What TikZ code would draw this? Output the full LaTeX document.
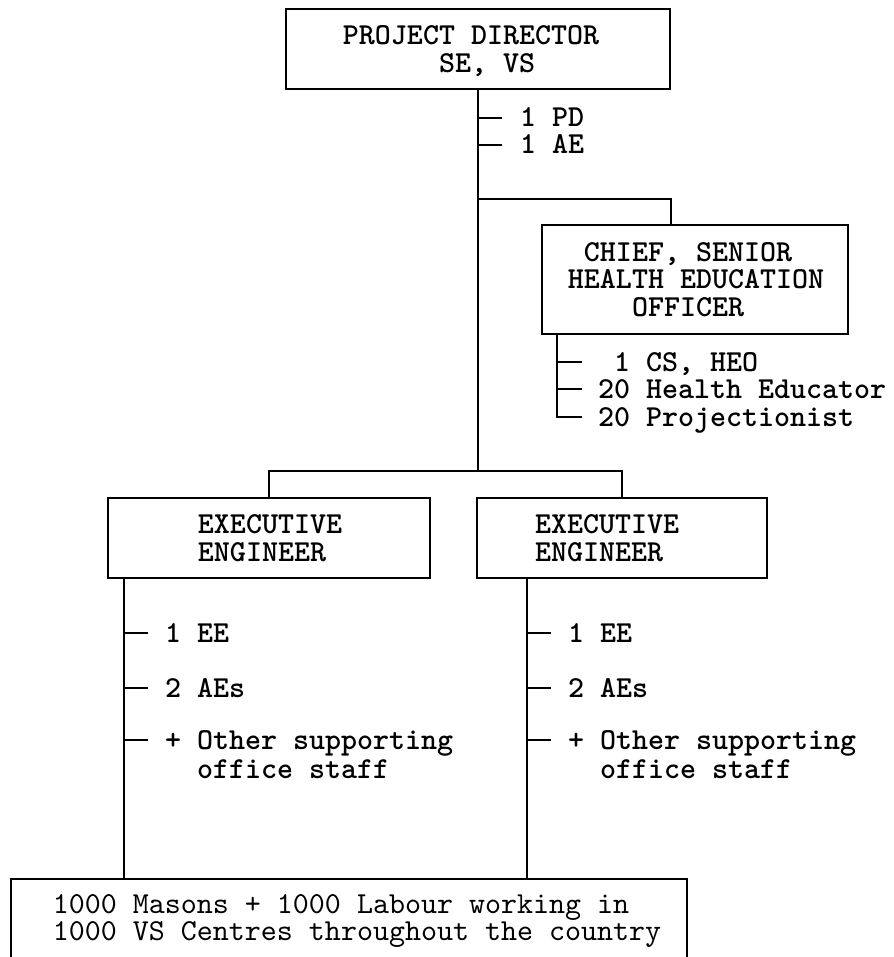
\documentclass[tikz,border=0pt]{standalone}
\usepackage{fontspec}
\newfontfamily\orgmono{lmmonolt10-bold.otf}
\newfontfamily\crewmono{lmmono10-regular.otf}
\newcommand{\orgsize}{\fontsize{30.48pt}{27.5pt}\selectfont}

\tikzset{
  post/.style={draw, line width=2pt, minimum height=80pt, inner sep=0pt},
  boxtxt/.style={font=\orgmono\orgsize, align=left, inner sep=0pt},
  lbl/.style={font=\orgmono\orgsize, inner sep=0pt, text height=18pt, text depth=0pt, anchor=west},
  link/.style={line width=1.6pt}
}

\begin{document}
\begin{tikzpicture}[x=1pt,y=-1pt]
\useasboundingbox (0,0) rectangle (893,957);

% the posts
\node[post, minimum width=384pt] (pd) at (478,49) {};
\node[post, minimum width=306pt, minimum height=109pt] (cs) at (695,279.5) {};
\node[post, minimum width=322pt] (eel) at (269,538) {};
\node[post, minimum width=290pt] (eer) at (622,538) {};
\node[post, minimum width=676pt, minimum height=79pt] (crew) at (349,918.5) {};

\node[boxtxt] (pdtxt) at ([xshift=-7pt,yshift=-2pt]pd.center) {PROJECT DIRECTOR\\\hphantom{PROJEC}SE, VS};
\node[boxtxt] (cstxt) at ([xshift=1pt]cs.center) {\hphantom{X}CHIEF, SENIOR\\HEALTH EDUCATION\\\hphantom{XXXX}OFFICER};
\node[boxtxt] (eeltxt) at ([xshift=1pt]eel.center) {EXECUTIVE\\ENGINEER};
\node[boxtxt] (eertxt) at ([xshift=-15pt]eer.center) {EXECUTIVE\\ENGINEER};
\node[boxtxt, font=\crewmono\fontsize{30.48pt}{27pt}\selectfont] (crewtxt) at ([xshift=8pt,yshift=-2pt]crew.center)
  {1000 Masons + 1000 Labour working in\\1000 VS Centres throughout the country};

% the tree
\coordinate (csfork) at (478,199);
\coordinate (fork) at (478,471);
\draw[link] (pd.south) -- (fork);
\draw[link] (csfork) -| (cs.north -| pd.east);
\draw[link] (eel.north) |- (fork) -| (eer.north);

% staff under the director
\foreach \y/\t [count=\i] in {118/1 PD,145/1 AE} {
  \node[lbl] (pdsub\i) at (520,\y) {\t};
  \draw[link] ([xshift=-18pt]pdsub\i.west) -- ++(-24,0);
}

% staff under the chief
\foreach \y/\t [count=\i] in {362/\hphantom{1}1 CS{,} HEO,389/20 Health Educator,417/20 Projectionist} {
  \node[lbl] (cssub\i) at (598,\y) {\t};
}
\draw[link] ([xshift=16pt]cs.south west) |- ([xshift=-16pt]cssub3.west);
\foreach \i in {1,2}
  \draw[link] ([xshift=-16pt]cssub\i.west) -- ++(-24,0);

% staff under the engineers
\foreach \b/\x in {eel/124,eer/527} {
  \draw[link] (\x,578) -- (\x,879);
  \foreach \y/\t [count=\i] in {633/1 EE,688/2 AEs,740/+ Other supporting} {
    \node[lbl] (\b sub\i) at (\x+41,\y) {\t};
    \draw[link] ([xshift=-17pt]\b sub\i.west) -- ++(-24,0);
  }
  \node[lbl] (\b sub4) at (\x+73,769) {office staff};
}
\end{tikzpicture}
\end{document}
